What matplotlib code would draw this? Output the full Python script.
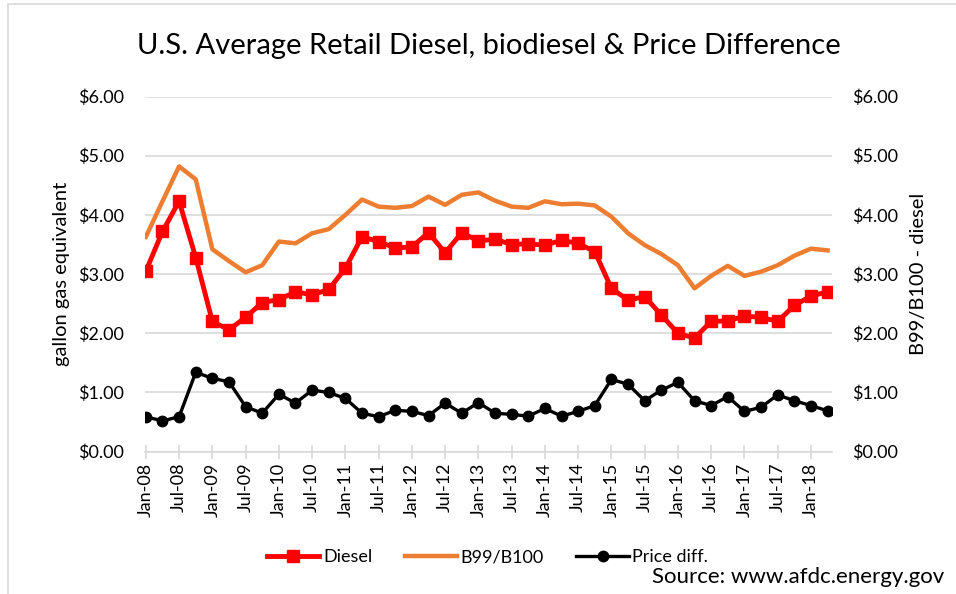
"""
U.S. average retail diesel vs biodiesel (B99/B100) and the price difference,
quarterly, Jan-08 .. Apr-18. Values read off the AFDC chart.
"""

import matplotlib.pyplot as plt
from matplotlib.lines import Line2D
from matplotlib.patches import Rectangle
from matplotlib.ticker import FuncFormatter, MultipleLocator

plt.rcParams["font.family"] = ["Lato", "DejaVu Sans"]

# quarterly points, Jan-08 .. Apr-18
quarters = [f"{m}-{y:02d}" for y in range(8, 19) for m in ("Jan", "Apr", "Jul", "Oct")][:42]

diesel = [3.05, 3.72, 4.23, 3.28, 2.20, 2.06, 2.27, 2.52, 2.57, 2.70,
          2.65, 2.74, 3.10, 3.63, 3.55, 3.44, 3.46, 3.70, 3.36, 3.70,
          3.56, 3.59, 3.50, 3.51, 3.49, 3.57, 3.52, 3.38, 2.76, 2.56,
          2.62, 2.31, 2.00, 1.92, 2.20, 2.21, 2.29, 2.27, 2.20, 2.47,
          2.63, 2.70]
b100 = [3.63, 4.23, 4.82, 4.60, 3.42, 3.22, 3.03, 3.15, 3.55, 3.52,
        3.69, 3.76, 4.00, 4.26, 4.14, 4.12, 4.15, 4.31, 4.17, 4.34,
        4.38, 4.24, 4.14, 4.12, 4.23, 4.18, 4.19, 4.16, 3.97, 3.69,
        3.49, 3.34, 3.15, 2.76, 2.97, 3.14, 2.97, 3.04, 3.15, 3.31,
        3.43, 3.40]
price_diff = [0.59, 0.52, 0.59, 1.34, 1.24, 1.18, 0.76, 0.65, 0.97, 0.82,
              1.04, 1.00, 0.90, 0.65, 0.59, 0.70, 0.68, 0.61, 0.82, 0.65,
              0.83, 0.65, 0.63, 0.60, 0.73, 0.60, 0.68, 0.78, 1.22, 1.14,
              0.86, 1.04, 1.17, 0.86, 0.78, 0.93, 0.68, 0.75, 0.96, 0.86,
              0.78, 0.69]

RED, ORANGE, BLACK, GRID = "#ff0000", "#ed7d31", "#000000", "#d9d9d9"
FS = 13

fig = plt.figure(figsize=(9.56, 5.94), dpi=100)
ax = fig.add_axes([0.1517, 0.2396, 0.7183, 0.5979])

# chart frame (only top/left edges fall inside the picture)
fig.patches.append(Rectangle((8 / 956, -0.1), 1.2, 1.1 - 4 / 594, transform=fig.transFigure,
                             fill=False, edgecolor=GRID, lw=1.2))

x = range(len(quarters))
ax.plot(x, b100, color=ORANGE, lw=3.2, solid_joinstyle="round", zorder=3)
ax.plot(x, diesel, color=RED, lw=3.5, marker="s", ms=8, zorder=4)
ax.plot(x, price_diff, color=BLACK, lw=2.4, marker="o", ms=7.5, zorder=4)

ax.set_ylim(0, 6)
ax.set_xlim(-0.05, 41.25)
ax.yaxis.set_major_locator(MultipleLocator(1))
money = FuncFormatter(lambda v, _: f"${v:.2f}")
ax.yaxis.set_major_formatter(money)
ax.grid(axis="y", color=GRID, lw=1.2)
ax.set_axisbelow(True)
for s in ("top", "right", "left"):
    ax.spines[s].set_visible(False)
ax.spines["bottom"].set_color(GRID)
ax.spines["bottom"].set_linewidth(1.2)
ax.tick_params(axis="y", length=0, labelsize=FS, pad=15)

ax.set_xticks(range(0, 42, 2))
ax.set_xticklabels(quarters[0:42:2], rotation=90, fontsize=FS)
ax.tick_params(axis="x", direction="inout", length=10, color=GRID, width=1.2, pad=3)

ax.set_ylabel("gallon gas equivalent", fontsize=14.5, labelpad=6)

ax2 = ax.twinx()
ax2.set_ylim(0, 6)
ax2.yaxis.set_major_locator(MultipleLocator(1))
ax2.yaxis.set_major_formatter(money)
for s in ax2.spines.values():
    s.set_visible(False)
ax2.tick_params(axis="y", length=0, labelsize=FS, pad=15)
ax2.set_ylabel("B99/B100 - diesel", fontsize=14.5, labelpad=8)

fig.text(0.511, 0.922, "U.S. Average Retail Diesel, biodiesel & Price Difference",
         ha="center", va="center", fontsize=21)

handles = [
    Line2D([], [], color=RED, lw=3.5, marker="s", ms=8),
    Line2D([], [], color=ORANGE, lw=3.2),
    Line2D([], [], color=BLACK, lw=2.4, marker="o", ms=7.5),
]
fig.legend(handles, ["Diesel", "B99/B100", "Price diff."], loc="center",
           bbox_to_anchor=(0.51, 0.062), ncol=3, frameon=False, fontsize=FS,
           handlelength=2.9, handletextpad=0.2, columnspacing=1.8)

fig.text(0.988, 0.028, "Source: www.afdc.energy.gov", ha="right", va="center", fontsize=16)

fig.savefig("out.png", dpi=100)
